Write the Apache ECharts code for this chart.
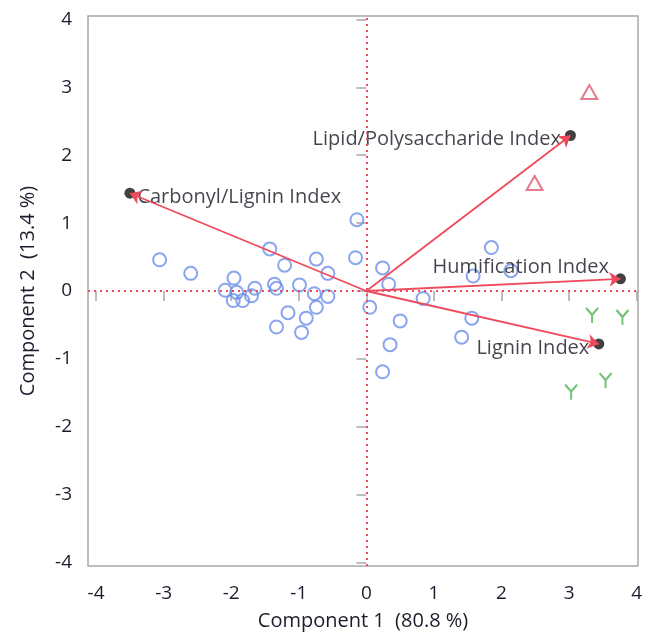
<!DOCTYPE html>
<html>
<head>
<meta charset="utf-8">
<script src="https://cdn.jsdelivr.net/npm/echarts@6/dist/echarts.min.js"></script>
<style>html,body{margin:0;padding:0;background:#fff;}#c{width:647px;height:636px;}</style>
</head>
<body>
<div id="c"></div>
<script>
// Scores (blue open circles)
const circleX = [-3.06,-2.60,-1.96,-2.09,-1.92,-1.97,-1.83,-1.70,-1.65,-1.43,-1.21,-1.36,-1.33,-0.99,-1.33,-1.16,-0.89,-0.96,-0.74,-0.57,-0.77,-0.57,-0.74,-0.14,-0.16,0.24,0.33,0.05,0.50,0.35,0.24,0.84,1.85,1.58,2.14,1.56,1.41];
const circleY = [0.46,0.26,0.19,0.01,-0.02,-0.14,-0.14,-0.07,0.04,0.62,0.38,0.10,0.04,0.09,-0.53,-0.32,-0.40,-0.61,0.47,0.26,-0.04,-0.08,-0.24,1.05,0.49,0.34,0.10,-0.24,-0.44,-0.79,-1.19,-0.11,0.64,0.22,0.30,-0.40,-0.68];
// Scores (red open triangles)
const triX = [3.30, 2.49];
const triY = [2.93, 1.59];
// Scores (green Y markers)
const yMarkX = [3.34, 3.79, 3.03, 3.54];
const yMarkY = [-0.36, -0.39, -1.49, -1.32];
// Loadings (vectors)
const vecNames = ['Carbonyl/Lignin Index','Lipid/Polysaccharide Index','Humification Index','Lignin Index'];
const vecX = [-3.50, 3.02, 3.76, 3.44];
const vecY = [1.44, 2.29, 0.18, -0.78];
// Ticks
const xTicks = [-4,-3,-2,-1,0,1,2,3,4];
const yTicks = [-4,-3,-2,-1,0,1,2,3,4];
const xTitle = 'Component 1  (80.8 %)';
const yTitle = 'Component 2  (13.4 %)';

const FONT = 'Open Sans';
const TXT = '#1c1c2c';
const RED = '#ef4a5c';

const labelCfg = [
  {position:'right', distance:2, offset:[0,4]},
  {position:'left', distance:4, offset:[0,4]},
  {position:'left', distance:6, offset:[0,-11]},
  {position:'left', distance:4, offset:[0,4]}
];

const chart = echarts.init(document.getElementById('c'), null, {renderer:'canvas'});
const axisCommon = {
  type:'value',
  axisLine:{show:false},
  splitLine:{show:false},
  axisTick:{show:true, inside:false, length:10, lineStyle:{color:'#a8a8a8', width:1.5}},
  nameTextStyle:{color:TXT, fontFamily:FONT, fontSize:20}
};
chart.setOption({
  animation:false,
  backgroundColor:'#fff',
  grid:{left:88, right:9, top:16, bottom:69, show:true, borderColor:'#a8a8a8', borderWidth:1.5, backgroundColor:'transparent'},
  xAxis:Object.assign({}, axisCommon, {
    min:-4.12, max:4.02,
    axisTick:Object.assign({}, axisCommon.axisTick, {customValues:xTicks}),
    axisLabel:{customValues:xTicks, color:TXT, fontFamily:FONT, fontSize:19, margin:18},
    name:xTitle, nameLocation:'middle', nameGap:45
  }),
  yAxis:Object.assign({}, axisCommon, {
    min:-4.05, max:4.05,
    axisTick:Object.assign({}, axisCommon.axisTick, {customValues:yTicks}),
    axisLabel:{customValues:yTicks, color:TXT, fontFamily:FONT, fontSize:19, margin:16},
    name:yTitle, nameLocation:'middle', nameGap:50
  }),
  series:[
    {
      type:'scatter', symbol:'circle', symbolSize:13, z:3,
      data:circleX.map((x,i)=>[x,circleY[i]]),
      itemStyle:{color:'rgba(0,0,0,0)', borderColor:'#6b8fe8', borderWidth:2},
      markLine:{
        silent:true, symbol:['none','none'], label:{show:false},
        lineStyle:{color:RED, type:[2,4], width:2},
        data:[{xAxis:0},{yAxis:0}]
      }
    },
    {
      type:'scatter', symbol:'triangle', symbolSize:[16,14], z:3,
      data:triX.map((x,i)=>[x,triY[i]]),
      itemStyle:{color:'rgba(0,0,0,0)', borderColor:'#dc5c72', borderWidth:2}
    },
    {
      type:'scatter', symbol:'path://M0,0 L6,7 L12,0 M6,7 L6,15', symbolSize:[12,15], z:3,
      data:yMarkX.map((x,i)=>[x,yMarkY[i]]),
      itemStyle:{color:'rgba(0,0,0,0)', borderColor:'#52b45a', borderWidth:2.2}
    },
    {
      type:'scatter', symbol:'circle', symbolSize:11, z:4,
      data:vecX.map((x,i)=>({value:[x,vecY[i]], name:vecNames[i],
        label:Object.assign({show:true, formatter:vecNames[i], color:'#15151f', fontFamily:FONT, fontSize:20}, labelCfg[i])})),
      itemStyle:{color:'#111'},
      label:{color:'#15151f', fontFamily:FONT, fontSize:20}
    },
    {
      type:'lines', coordinateSystem:'cartesian2d', z:5,
      symbol:['none','arrow'], symbolSize:11,
      lineStyle:{color:RED, width:1.8, opacity:1},
      data:vecX.map((x,i)=>({coords:[[0,0],[x,vecY[i]]]}))
    }
  ]
});
</script>
</body>
</html>
